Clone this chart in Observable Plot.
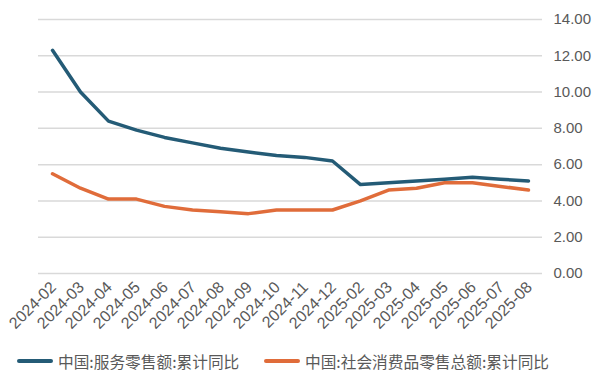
<!DOCTYPE html>
<html><head><meta charset="utf-8">
<script src="https://cdn.jsdelivr.net/npm/d3@7"></script>
<script src="https://cdn.jsdelivr.net/npm/@observablehq/plot@0.6"></script>
<style>
body{margin:0;background:#fff;font-family:"Liberation Sans","Noto Sans CJK SC",sans-serif;}
#wrap{width:600px;height:384px;position:relative;overflow:hidden;}
.legend{position:absolute;top:349px;left:0;width:600px;height:24px;font-family:"Noto Sans CJK SC",sans-serif;font-size:15.7px;color:#595959;}
.item{position:absolute;top:0;display:flex;align-items:center;height:24px;}
.sw{width:36px;height:4px;border-radius:2px;margin-right:5px;}
</style></head><body>
<div id="wrap"><div id="chart"></div>
<div class="legend">
<div class="item" style="left:17px"><span class="sw" style="background:#245b76"></span><span id="l1"></span></div>
<div class="item" style="left:264px"><span class="sw" style="background:#e06c3a"></span><span id="l2"></span></div>
</div></div>
<script>
const months = ["2024-02","2024-03","2024-04","2024-05","2024-06","2024-07","2024-08","2024-09","2024-10","2024-11","2024-12","2025-02","2025-03","2025-04","2025-05","2025-06","2025-07","2025-08"];
const serviceRetail = [12.3,10.0,8.4,7.9,7.5,7.2,6.9,6.7,6.5,6.4,6.2,4.9,5.0,5.1,5.2,5.3,5.2,5.1];
const totalRetail = [5.5,4.7,4.1,4.1,3.7,3.5,3.4,3.3,3.5,3.5,3.5,4.0,4.6,4.7,5.0,5.0,4.8,4.6];
const seriesNames = ["中国:服务零售额:累计同比","中国:社会消费品零售总额:累计同比"];
const seriesColors = ["#245b76","#e06c3a"];
const yTicks = [0,2,4,6,8,10,12,14];

document.getElementById("l1").textContent = seriesNames[0];
document.getElementById("l2").textContent = seriesNames[1];

const data = [];
months.forEach((m,i)=>{
  data.push({month:m, value:serviceRetail[i], series:seriesNames[0]});
  data.push({month:m, value:totalRetail[i], series:seriesNames[1]});
});

const chart = Plot.plot({
  width:600, height:345,
  marginLeft:38, marginRight:58, marginTop:19, marginBottom:72,
  style:{fontFamily:"'Liberation Sans',sans-serif", fontSize:"15px", color:"#595959", background:"#fff"},
  x:{type:"point", domain:months, padding:0.5, label:null},
  y:{domain:[0,14], label:null},
  color:{domain:seriesNames, range:seriesColors},
  marks:[
    Plot.gridY(yTicks,{stroke:"#d9d9d9", strokeOpacity:1, strokeWidth:1.5}),
    Plot.axisY(yTicks,{anchor:"right", tickSize:0, tickPadding:11, tickFormat:d=>d.toFixed(2), fontSize:15, textAnchor:"start", label:null}),
    Plot.axisX({tickSize:0, tickRotate:-45, tickPadding:11, dx:1, fontSize:16, label:null}),
    Plot.line(data,{x:"month", y:"value", z:"series", stroke:"series", strokeWidth:3.5, strokeLinejoin:"round", strokeLinecap:"round"})
  ]
});
document.getElementById("chart").appendChild(chart);
</script></body></html>
